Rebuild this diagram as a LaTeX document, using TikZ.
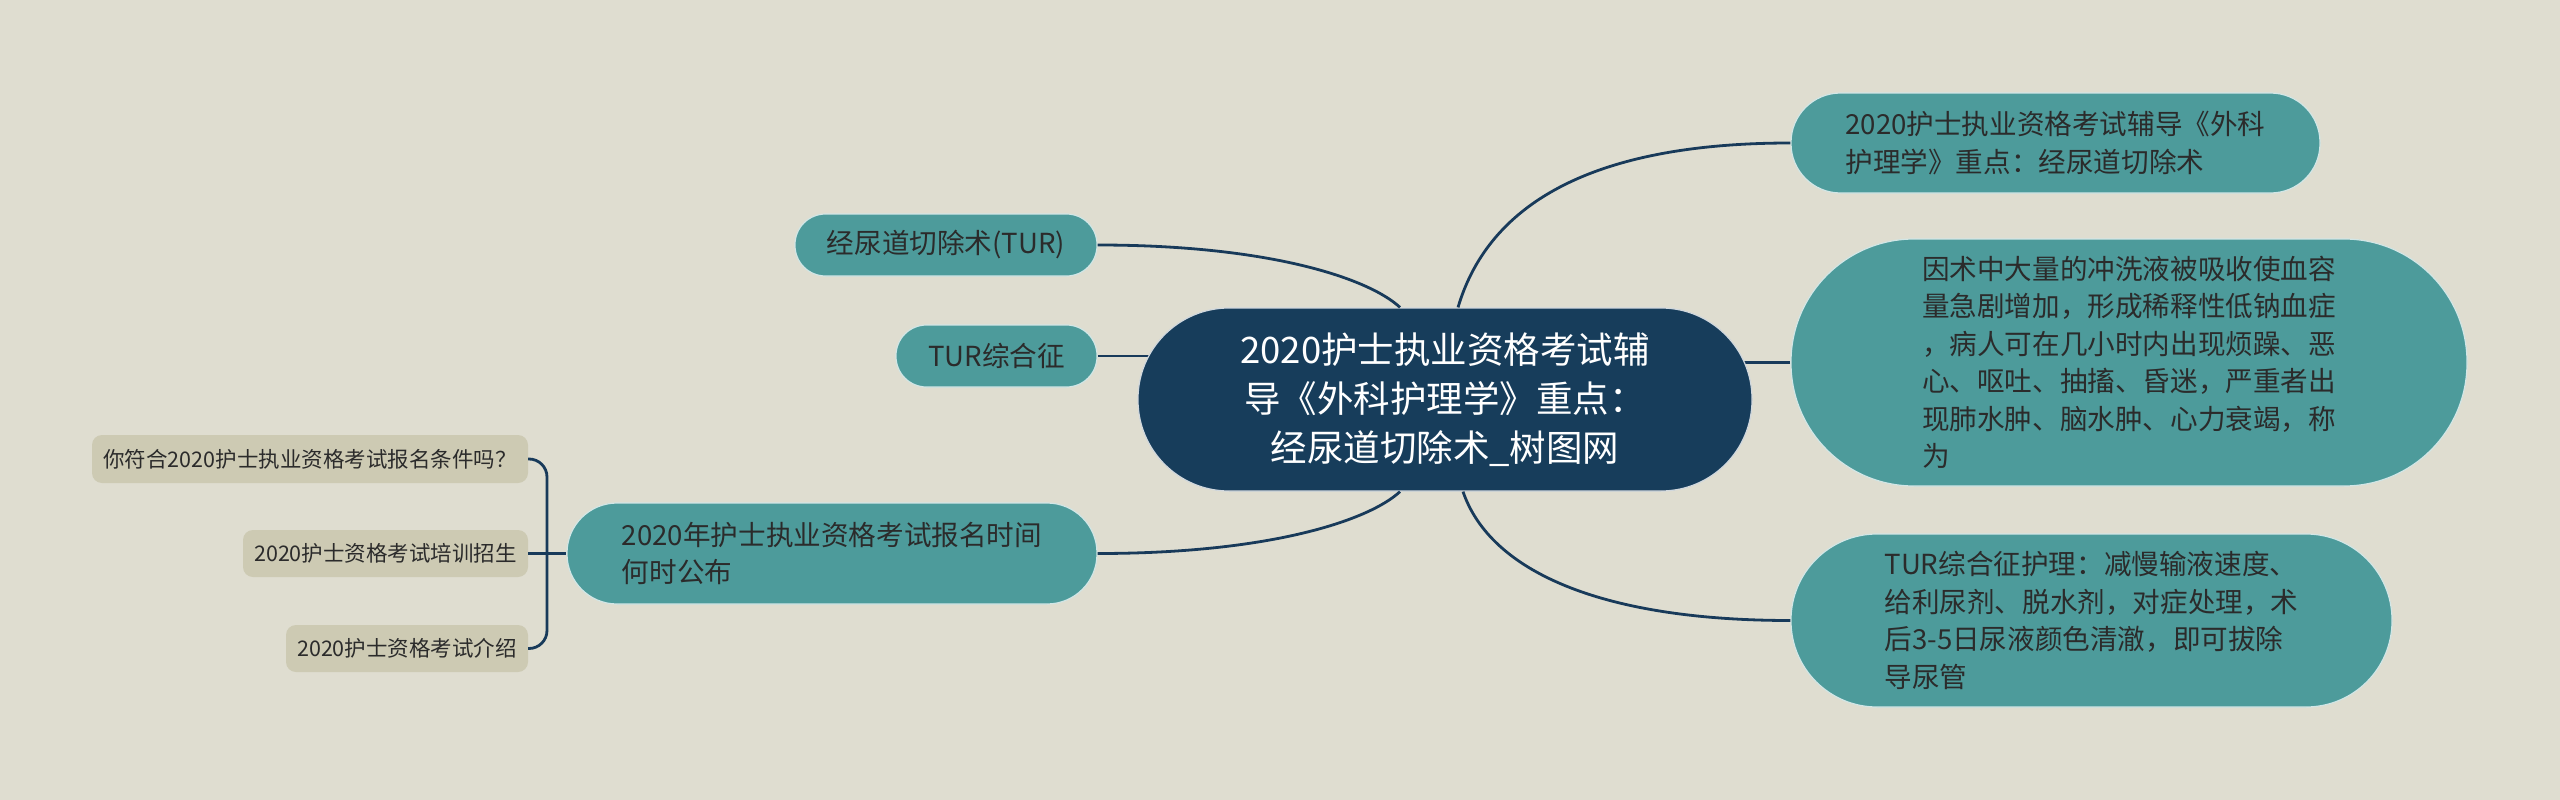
\documentclass[tikz,border=0pt]{standalone}
\usepackage{fontspec}
\setmainfont{Noto Sans CJK SC}
\usetikzlibrary{calc}
\pgfdeclarelayer{bg}
\pgfdeclarelayer{back}
\pgfsetlayers{back,bg,main}
\definecolor{bgc}{HTML}{DFDDD0}
\definecolor{tealc}{HTML}{4D9B9B}
\definecolor{navy}{HTML}{173D5B}
\definecolor{leafc}{HTML}{CDCAB3}
\definecolor{linec}{HTML}{183A5A}
\definecolor{txtc}{HTML}{2B2B2B}
\begin{document}
\begin{tikzpicture}[x=1pt,y=-1pt,
  box/.style={line width=1.2pt, inner sep=0pt},
  central/.style={box, fill=navy, draw=white!80!navy, text=white, align=center,
    font=\fontsize{36.5}{49}\selectfont},
  tealbox/.style={box, fill=tealc, draw=white!75!tealc, text=txtc, align=left,
    font=\fontsize{27.6}{37.5}\selectfont},
  leafbox/.style={fill=leafc, inner sep=0pt, rounded corners=10pt, text=txtc,
    font=\fontsize{21.5}{26}\selectfont},
  conn/.style={draw=linec, line width=2.8pt},
]
\useasboundingbox (0,0) rectangle (2560,800);
\begin{pgfonlayer}{back}
  \fill[bgc] (0,0) rectangle (2560,800);
\end{pgfonlayer}

% central
\node[central, minimum width=614pt, minimum height=183pt, rounded corners=91pt] (c) at (1445,399.5)
  {2020护士执业资格考试辅\\导《外科护理学》重点：\\经尿道切除术\_树图网};

% right
\node[tealbox, minimum width=529pt, minimum height=100pt, rounded corners=49.5pt] (r1) at (2055.5,143)
  {2020护士执业资格考试辅导《外科\\护理学》重点：经尿道切除术};
\node[tealbox, minimum width=676pt, minimum height=247pt, rounded corners=123pt] (r2) at (2129,362.5)
  {因术中大量的冲洗液被吸收使血容\\量急剧增加，形成稀释性低钠血症\\，病人可在几小时内出现烦躁、恶\\心、呕吐、抽搐、昏迷，严重者出\\现肺水肿、脑水肿、心力衰竭，称\\为};
\node[tealbox, minimum width=601pt, minimum height=173pt, rounded corners=86pt] (r3) at (2091.5,620.5)
  {TUR综合征护理：减慢输液速度、\\给利尿剂、脱水剂，对症处理，术\\后3-5日尿液颜色清澈，即可拔除\\导尿管};

% left
\node[tealbox, minimum width=302pt, minimum height=62pt, rounded corners=30.5pt] (l1) at (946,245)
  {经尿道切除术(TUR)};
\node[tealbox, minimum width=201pt, minimum height=62pt, rounded corners=30.5pt] (l2) at (996.5,356)
  {TUR综合征};
\node[tealbox, minimum width=530pt, minimum height=101pt, rounded corners=50pt] (l3) at (832,553.5)
  {2020年护士执业资格考试报名时间\\何时公布};

% leaves
\node[leafbox, minimum width=436pt, minimum height=48pt] (f1) at (310,459)
  {你符合2020护士执业资格考试报名条件吗？};
\node[leafbox, minimum width=285pt, minimum height=47pt] (f2) at (385.5,553.5)
  {2020护士资格考试培训招生};
\node[leafbox, minimum width=242pt, minimum height=47pt] (f3) at (407,648.5)
  {2020护士资格考试介绍};

\coordinate (bx) at (547,553.5);

\begin{pgfonlayer}{bg}
  \draw[conn] (r2.west) -- (c.center |- r2.west);
  \draw[conn] (l2.east) -- (c.center |- l2.east);
\end{pgfonlayer}

\draw[conn] ($(c.north)+(13,0)$) .. controls +(32,-108) and +(-191,0) .. (r1.west);
\draw[conn] ($(c.south)+(18,0)$) .. controls +(27,79) and +(-191,0) .. (r3.west);
\draw[conn] ($(c.north)+(-45,0)$) .. controls +(-30,-28) and +(175,0) .. (l1.east);
\draw[conn] ($(c.south)+(-45,0)$) .. controls +(-30,28) and +(175,0) .. (l3.east);

\draw[conn, rounded corners=18pt] (f1.east) -| (bx) |- (f3.east);
\draw[conn] (f2.east) -- (l3.west);
\end{tikzpicture}
\end{document}
